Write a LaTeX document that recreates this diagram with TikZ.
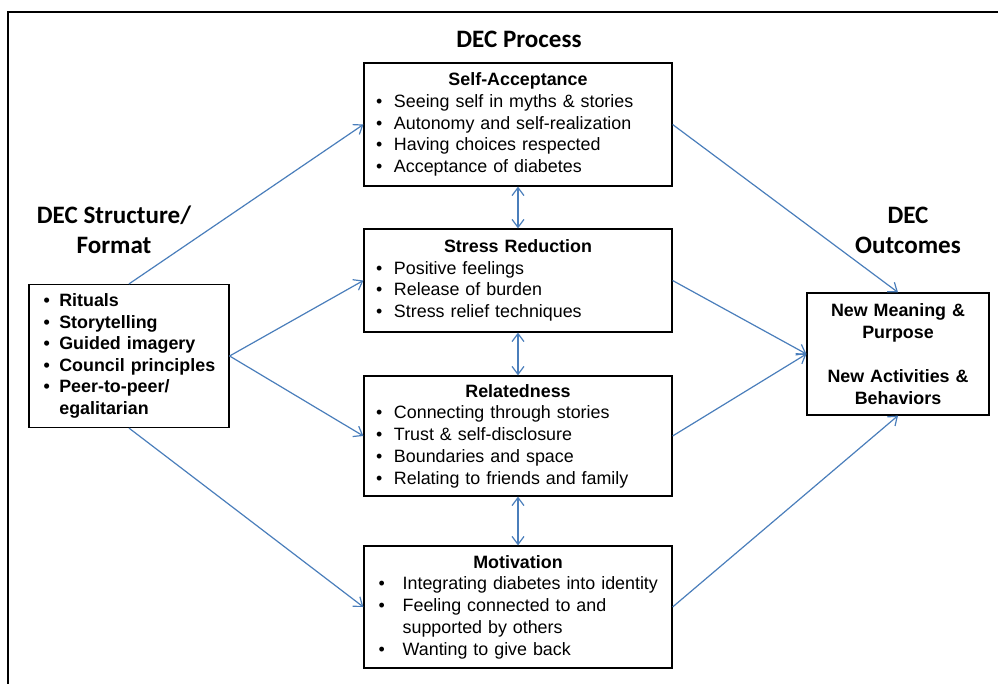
\documentclass[tikz,border=0pt]{standalone}
\usepackage{fontspec}
\setmainfont{Liberation Sans}
\newfontfamily\headfont{Carlito}
\usepackage{xcolor}
\usepackage{tikz}
\usetikzlibrary{positioning,arrows.meta}
\definecolor{linkblue}{RGB}{74,126,187}
\newcommand{\bul}[1][13.5pt]{\makebox[#1][l]{\textbullet}}

\begin{document}
\begin{tikzpicture}[x=0.75pt,y=-0.75pt,
    box/.style={draw, line width=0.9pt, rectangle, align=left,
        font=\fontsize{13.4}{16.3}\selectfont, inner ysep=0pt},
    head/.style={font=\headfont\bfseries\fontsize{18.8}{22.5}\selectfont, align=center},
    link/.style={draw=linkblue, line width=0.9pt, -{Straight Barb[length=6pt,width=9pt]}},
    twoway/.style={draw=linkblue, line width=0.9pt,
        {Straight Barb[length=6pt,width=9pt]}-{Straight Barb[length=6pt,width=9pt]}}]
    \useasboundingbox (0,0) rectangle (998,684);

    % Frame
    \draw [line width=1.5pt] (8,684) -- (8,12) -- (998,12);

    % Headings
    \node [head] (procttl) at (519,39) {DEC Process};
    \node [head] (structttl) at (114,230) {DEC Structure/\\Format};
    \node [head] (outttl) at (908,230) {DEC\\Outcomes};

    % Structure
    \node [box, font=\bfseries\fontsize{13.4}{16.2}\selectfont, inner xsep=11pt,
        text width=128pt, minimum height=107.25pt] (format) at (129,356)
        {\bul[11.75pt]Rituals\\ \bul[11.75pt]Storytelling\\ \bul[11.75pt]Guided imagery\\
         \mbox{\bul[11.75pt]Council principles}\\ \bul[11.75pt]Peer-to-peer/\\ \hspace*{11.75pt}egalitarian};

    % Process
    \node [box, inner xsep=9pt, text width=213pt, minimum height=92.25pt] (selfacc) at (518,124.5)
        {\centerline{\bfseries Self-Acceptance}
         \bul Seeing self in myths \& stories\\ \bul Autonomy and self-realization\\
         \bul Having choices respected\\ \bul Acceptance of diabetes};
    \node [box, inner xsep=9pt, text width=213pt, minimum height=77.25pt] (stress) at (518,280.5)
        {\centerline{\bfseries Stress Reduction}
         \bul Positive feelings\\ \bul Release of burden\\ \bul Stress relief techniques};
    \node [box, inner xsep=9pt, text width=213pt, minimum height=90pt] (related) at (518,436)
        {\centerline{\bfseries Relatedness}
         \bul Connecting through stories\\ \bul Trust \& self-disclosure\\
         \bul Boundaries and space\\ \bul Relating to friends and family};
    \node [box, inner xsep=11pt, text width=209pt, minimum height=91.5pt] (motiv) at (518,607)
        {\centerline{\bfseries Motivation}
         \mbox{\bul[18pt]Integrating diabetes into identity}\\ \bul[18pt]Feeling connected to and\\
         \hspace*{18pt}supported by others\\ \bul[18pt]Wanting to give back};

    % Outcomes
    \node [box, align=center, font=\bfseries\fontsize{13.4}{16.5}\selectfont, inner xsep=4pt,
        text width=128.5pt, minimum height=91.5pt] (outcome) at (898,354)
        {New Meaning \&\\ Purpose\\[16.5pt] New Activities \&\\ Behaviors};

    % Links
    \draw [link] (format.north) -- (selfacc.west);
    \draw [link] (format.east) -- (stress.west);
    \draw [link] (format.east) -- (related.west);
    \draw [link] (format.south) -- (motiv.west);
    \draw [link] (selfacc.east) -- (outcome.north);
    \draw [link] (stress.east) -- (outcome.west);
    \draw [link] (related.east) -- (outcome.west);
    \draw [link] (motiv.east) -- (outcome.south);
    \draw [twoway] (selfacc.south) -- (stress.north);
    \draw [twoway] (stress.south) -- (related.north);
    \draw [twoway] (related.south) -- (motiv.north);
\end{tikzpicture}
\end{document}
